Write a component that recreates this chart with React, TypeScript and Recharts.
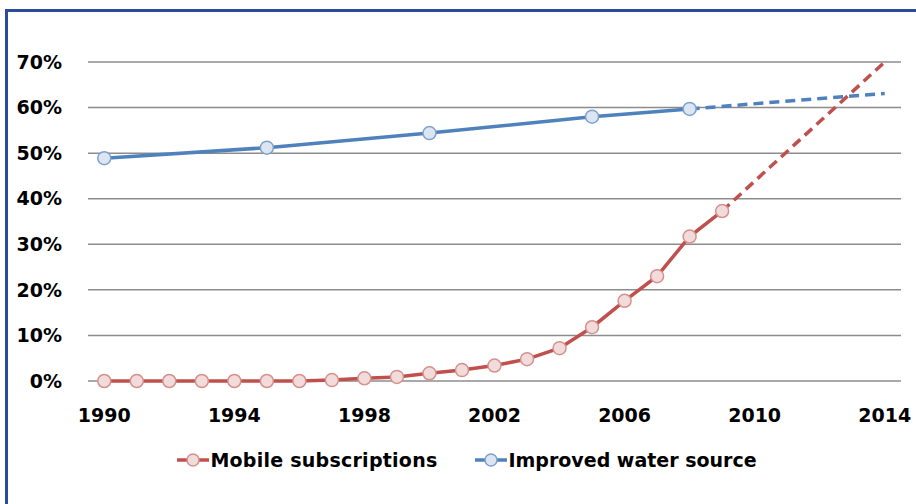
import { LineChart, Line, XAxis, YAxis, CartesianGrid, Legend } from 'recharts'

const years = [
  1990, 1991, 1992, 1993, 1994, 1995, 1996, 1997, 1998, 1999, 2000, 2001, 2002,
  2003, 2004, 2005, 2006, 2007, 2008, 2009, 2010, 2011, 2012, 2013, 2014,
]

// share of population, %
const mobile = [
  0, 0, 0, 0, 0, 0, 0, 0.2, 0.6, 0.9, 1.7, 2.4, 3.4,
  4.8, 7.2, 11.8, 17.6, 23.0, 31.7, 37.3, null, null, null, null, null,
]
const mobileProjection = [
  null, null, null, null, null, null, null, null, null, null, null, null, null,
  null, null, null, null, null, null, 37.3, null, null, null, null, 70.0,
]
const water = [
  48.9, null, null, null, null, 51.2, null, null, null, null, 54.4, null, null,
  null, null, 58.0, null, null, 59.7, null, null, null, null, null, null,
]
const waterProjection = [
  null, null, null, null, null, null, null, null, null, null, null, null, null,
  null, null, null, null, null, 59.7, null, null, null, null, null, 63.1,
]

const xTicks = [1990, 1994, 1998, 2002, 2006, 2010, 2014]
const yTicks = [0, 10, 20, 30, 40, 50, 60, 70]

const seriesNames = ['Mobile subscriptions', 'Improved water source']

const RED = '#C0504D'
const RED_FILL = '#F2DCDB'
const RED_EDGE = '#D6908D'
const BLUE = '#4F81BD'
const BLUE_FILL = '#DCE6F2'
const BLUE_EDGE = '#7FA1CF'

const data = years.map((year, i) => ({
  year,
  mobile: mobile[i],
  mobileProjection: mobileProjection[i],
  water: water[i],
  waterProjection: waterProjection[i],
}))

const FONT = '"DejaVu Sans", sans-serif'
const tickStyle = { fontSize: 19, fontWeight: 700, fill: '#000', fontFamily: FONT }

function LegendContent() {
  const items = [
    { name: seriesNames[0], stroke: RED, fill: RED_FILL, edge: RED_EDGE, space: 0.25 },
    { name: seriesNames[1], stroke: BLUE, fill: BLUE_FILL, edge: BLUE_EDGE, space: 0 },
  ]
  return (
    <div style={{ display: 'flex', justifyContent: 'center', gap: 38, paddingLeft: 18, fontFamily: FONT }}>
      {items.map((it) => (
        <div key={it.name} style={{ display: 'flex', alignItems: 'center' }}>
          <svg width={32} height={16} style={{ marginRight: 1 }}>
            <line x1={0} y1={8} x2={32} y2={8} stroke={it.stroke} strokeWidth={3.5} />
            <circle cx={16} cy={8} r={6} fill={it.fill} stroke={it.edge} strokeWidth={1.5} />
          </svg>
          <span style={{ fontSize: 19, fontWeight: 700, color: '#000', letterSpacing: it.space }}>{it.name}</span>
        </div>
      ))}
    </div>
  )
}

export default function App() {
  return (
    <div style={{ position: 'absolute', top: 0, left: 0, width: 916, height: 504, overflow: 'hidden', background: '#fff' }}>
      <div
        style={{
          position: 'absolute', left: 5, top: 9, width: 1000, height: 600,
          borderLeft: '3px solid #2D4B9B', borderTop: '3px solid #2D4B9B',
        }}
      />
      <div style={{ position: 'absolute', left: 0, top: 0 }}>
        <LineChart width={916} height={504} data={data} margin={{ top: 62, right: 15, bottom: 83, left: 0 }}>
          <CartesianGrid vertical={false} stroke="#8C8C8C" strokeWidth={1.5} />
          <XAxis
            dataKey="year"
            type="number"
            domain={[1989.5, 2014.5]}
            ticks={xTicks}
            axisLine={false}
            tickLine={false}
            tickSize={0}
            tickMargin={28}
            height={40}
            tick={tickStyle}
          />
          <YAxis
            domain={[0, 70]}
            ticks={yTicks}
            tickFormatter={(v) => `${v}%`}
            axisLine={false}
            tickLine={false}
            tickSize={0}
            tickMargin={26}
            width={88}
            tick={{ ...tickStyle, textAnchor: 'end' }}
          />
          <Legend
            verticalAlign="middle"
            align="center"
            content={() => <LegendContent />}
            wrapperStyle={{ position: 'absolute', top: 449, left: 0, width: 916 }}
          />
          <Line
            dataKey="water"
            connectNulls
            stroke={BLUE}
            strokeWidth={3.5}
            dot={{ r: 6.5, fill: BLUE_FILL, stroke: BLUE_EDGE, strokeWidth: 1.5 }}
            isAnimationActive={false}
          />
          <Line
            dataKey="mobile"
            stroke={RED}
            strokeWidth={3.5}
            dot={{ r: 6.5, fill: RED_FILL, stroke: RED_EDGE, strokeWidth: 1.5 }}
            isAnimationActive={false}
          />
          <Line
            dataKey="waterProjection"
            connectNulls
            stroke={BLUE}
            strokeWidth={3.5}
            strokeDasharray="10 6"
            dot={false}
            isAnimationActive={false}
          />
          <Line
            dataKey="mobileProjection"
            connectNulls
            stroke={RED}
            strokeWidth={3.5}
            strokeDasharray="10 6"
            dot={false}
            isAnimationActive={false}
          />
        </LineChart>
      </div>
    </div>
  )
}
